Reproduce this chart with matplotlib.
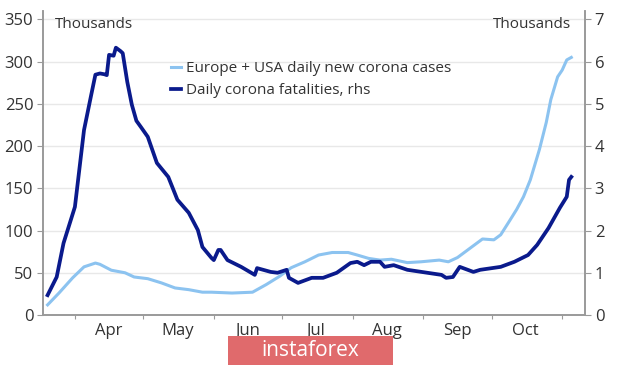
import pandas as pd
import matplotlib
matplotlib.use('Agg')
import matplotlib.pyplot as plt
import matplotlib.dates as mdates
from matplotlib.patches import Rectangle

plt.rcParams['font.family'] = ['Open Sans', 'DejaVu Sans']

# Europe + USA daily new corona cases (thousands, lhs)
case_dates = ['2020-03-20', '2020-03-25', '2020-03-31', '2020-04-05', '2020-04-10', '2020-04-12',
              '2020-04-17', '2020-04-23', '2020-04-27', '2020-05-03', '2020-05-09', '2020-05-15',
              '2020-05-21', '2020-05-27', '2020-05-31', '2020-06-09', '2020-06-18', '2020-06-24',
              '2020-06-30', '2020-07-05', '2020-07-11', '2020-07-17', '2020-07-23', '2020-07-30',
              '2020-08-03', '2020-08-08', '2020-08-13', '2020-08-18', '2020-08-25', '2020-08-31',
              '2020-09-08', '2020-09-12', '2020-09-16', '2020-09-22', '2020-09-27', '2020-10-02',
              '2020-10-05', '2020-10-09', '2020-10-12', '2020-10-15', '2020-10-18', '2020-10-22',
              '2020-10-25', '2020-10-27', '2020-10-30', '2020-11-01', '2020-11-03', '2020-11-05']
cases = [12, 26, 44, 57, 61.5, 60, 53, 50, 45, 43, 38, 32,
         30, 27, 27, 26, 27, 36, 46, 56, 63, 71, 74, 74,
         71, 67, 65, 66, 62, 63, 65, 63, 68, 80, 90, 89,
         95, 112, 125, 140, 160, 196, 228, 255, 282, 290, 302, 305]

# Daily corona fatalities (thousands, rhs)
death_dates = ['2020-03-20', '2020-03-24', '2020-03-27', '2020-04-01', '2020-04-05', '2020-04-08',
               '2020-04-10', '2020-04-12', '2020-04-14', '2020-04-15', '2020-04-16', '2020-04-18',
               '2020-04-19', '2020-04-21', '2020-04-22', '2020-04-24', '2020-04-26', '2020-04-28',
               '2020-04-30', '2020-05-03', '2020-05-07', '2020-05-12', '2020-05-16', '2020-05-21',
               '2020-05-25', '2020-05-27', '2020-05-31', '2020-06-01', '2020-06-03', '2020-06-04',
               '2020-06-07', '2020-06-13', '2020-06-19', '2020-06-20', '2020-06-26', '2020-06-29',
               '2020-07-03', '2020-07-04', '2020-07-08', '2020-07-14', '2020-07-19', '2020-07-25',
               '2020-07-31', '2020-08-03', '2020-08-06', '2020-08-09', '2020-08-13', '2020-08-15',
               '2020-08-19', '2020-08-25', '2020-09-04', '2020-09-09', '2020-09-11', '2020-09-14',
               '2020-09-17', '2020-09-23', '2020-09-26', '2020-10-05', '2020-10-11', '2020-10-17',
               '2020-10-21', '2020-10-26', '2020-10-31', '2020-11-03', '2020-11-04', '2020-11-05']
deaths = [0.47, 0.9, 1.7, 2.56, 4.38, 5.17,
          5.69, 5.72, 5.70, 5.68, 6.16, 6.14,
          6.33, 6.25, 6.2, 5.52, 4.98, 4.6,
          4.45, 4.22, 3.6, 3.27, 2.73, 2.42,
          2.01, 1.61, 1.35, 1.30, 1.54, 1.54,
          1.30, 1.14, 0.95, 1.11, 1.02, 1.0,
          1.07, 0.88, 0.76, 0.88, 0.88, 1.0,
          1.23, 1.26, 1.18, 1.26, 1.26, 1.14,
          1.18, 1.07, 0.99, 0.95, 0.88, 0.9,
          1.14, 1.02, 1.07, 1.14, 1.26, 1.42,
          1.66, 2.06, 2.54, 2.8, 3.2, 3.27]

month_labels = ['Apr', 'May', 'Jun', 'Jul', 'Aug', 'Sep', 'Oct']

light = '#8cc3f0'
dark = '#0a1a8c'
grey = '#9a9a9a'
txt = '#333333'

fig = plt.figure(figsize=(6.2, 3.65), dpi=100)
ax = fig.add_axes([0.0694, 0.137, 0.8741, 0.833])
ax2 = ax.twinx()

ax.plot(pd.to_datetime(case_dates), cases, color=light, lw=2.2, label='Europe + USA daily new corona cases')
ax2.plot(pd.to_datetime(death_dates), deaths, color=dark, lw=2.7, label='Daily corona fatalities, rhs')

ax.set_xlim(pd.Timestamp('2020-03-18'), pd.Timestamp('2020-11-11'))
ax.set_ylim(0, 360)
ax2.set_ylim(0, 7.2)
ax.set_yticks(range(0, 351, 50))
ax2.set_yticks(range(0, 8))

# month boundaries as ticks, names centred between them
ax.xaxis.set_major_locator(mdates.MonthLocator())
ax.xaxis.set_major_formatter(plt.NullFormatter())
mids = [pd.Timestamp(2020, m, 16) for m in range(4, 11)]
ax.set_xticks(mids, minor=True)
ax.set_xticklabels(month_labels, minor=True)
ax.tick_params(axis='x', which='minor', length=0, pad=6)
ax.tick_params(axis='x', which='major', length=3, color=grey)

ax.grid(axis='y', color='#e8e8e8', lw=1)
ax.set_axisbelow(True)
for a in (ax, ax2):
    a.spines['top'].set_visible(False)
    for s in ('left', 'right', 'bottom'):
        a.spines[s].set_color(grey)
        a.spines[s].set_linewidth(1.2)
    a.tick_params(axis='y', length=4, color=grey, labelsize=12, labelcolor=txt, pad=3)
    a.tick_params(axis='x', which='both', labelsize=12, labelcolor=txt)

ax.text(0.022, 0.955, 'Thousands', transform=ax.transAxes, fontsize=11, color=txt, va='center')
ax2.text(0.975, 0.955, 'Thousands', transform=ax.transAxes, fontsize=11, color=txt, va='center', ha='right')

h1, l1 = ax.get_legend_handles_labels()
h2, l2 = ax2.get_legend_handles_labels()
ax2.legend(h1 + h2, l1 + l2, loc='upper left', bbox_to_anchor=(0.21, 0.88), frameon=False,
           fontsize=11, handlelength=0.7, handletextpad=0.3, labelspacing=0.45, labelcolor=txt)

# watermark
fig.patches.append(Rectangle((228 / 620, 0.0), 165 / 620, 29 / 365, transform=fig.transFigure,
                             facecolor='#e06a6c', edgecolor='none'))
fig.text(310 / 620, 14 / 365, 'instaforex', color='white', fontsize=15, ha='center', va='center')

fig.savefig('out.png', dpi=100)
